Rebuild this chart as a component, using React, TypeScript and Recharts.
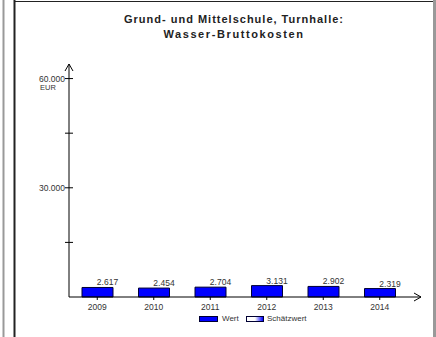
import React from 'react';
import { BarChart, Bar, XAxis, YAxis, LabelList } from 'recharts';

// Jahre und Werte (EUR)
const years = ['2009', '2010', '2011', '2012', '2013', '2014'];
const wert = [2617, 2454, 2704, 3131, 2902, 2319];
const yTicks = [15000, 30000, 45000, 60000];
const yLabelled = [30000, 60000];

const data = years.map((year, i) => ({ year, wert: wert[i] }));

const font = '"Liberation Sans", Arial, sans-serif';
const fmt = (v: number) => String(v).replace(/\B(?=(\d{3})+(?!\d))/g, '.');

const YTick = (props: any) => {
  const { x, y, payload } = props;
  return (
    <g>
      <line x1={x - 4} x2={x + 4} y1={y} y2={y} stroke="#000" />
      {yLabelled.includes(payload.value) && (
        <text x={x - 4} y={y + 3} textAnchor="end" fontSize={8.5} fontFamily={font} fill="#333">
          {fmt(payload.value)}
        </text>
      )}
    </g>
  );
};

const XTick = (props: any) => {
  const { x, y, payload } = props;
  return (
    <g>
      <line x1={x} x2={x} y1={y} y2={y + 3} stroke="#000" />
      <text x={x} y={y + 13} textAnchor="middle" fontSize={8.5} fontFamily={font} fill="#333">
        {payload.value}
      </text>
    </g>
  );
};

const ValueLabel = (props: any) => {
  const { x, y, width, value } = props;
  return (
    <text x={x + width / 2 + 10} y={y - 2} textAnchor="middle" fontSize={8.5} fontFamily={font} fill="#333">
      {fmt(value)}
    </text>
  );
};

export default function App() {
  return (
    <div style={{ position: 'fixed', left: 0, top: 0, width: 436, height: 337, background: '#fff', overflow: 'hidden' }}>
      {/* Titel */}
      <div style={{ position: 'absolute', left: 20, top: 12, width: 428, textAlign: 'center', fontFamily: font, fontWeight: 'bold', fontSize: 11, color: '#222', lineHeight: '15px' }}>
        <div style={{ letterSpacing: 1.0 }}>Grund- und Mittelschule, Turnhalle:</div>
        <div style={{ letterSpacing: 1.6 }}>Wasser-Bruttokosten</div>
      </div>

      <div style={{ position: 'absolute', left: 0, top: 0 }}>
        <BarChart width={436} height={337} data={data} margin={{ top: 64, right: 15, left: 9, bottom: 10 }}>
          <XAxis
            dataKey="year"
            height={30}
            padding={{ left: 0, right: 13 }}
            axisLine={{ stroke: '#000' }}
            tickLine={false}
            tickSize={0}
            tickMargin={0}
            tick={<XTick />}
            interval={0}
          />
          <YAxis
            width={60}
            domain={[0, 64000]}
            ticks={yTicks}
            axisLine={{ stroke: '#000' }}
            tickLine={false}
            tickSize={0}
            tickMargin={0}
            tick={<YTick />}
            interval={0}
          />
          <Bar dataKey="wert" fill="#0000ff" stroke="#000033" strokeWidth={1} barSize={31} isAnimationActive={false}>
            <LabelList dataKey="wert" content={<ValueLabel />} />
          </Bar>
        </BarChart>
      </div>

      {/* Rahmen, Pfeile und Einheit */}
      <svg style={{ position: 'absolute', left: 0, top: 0 }} width={436} height={337}>
        <line x1={3.5} x2={3.5} y1={0} y2={337} stroke="#999" strokeWidth={2} />
        <line x1={14.5} x2={14.5} y1={0} y2={337} stroke="#222" strokeWidth={2} />
        <line x1={14} x2={434} y1={1.5} y2={1.5} stroke="#222" strokeWidth={1} />
        <line x1={434.5} x2={434.5} y1={0} y2={337} stroke="#999" strokeWidth={3} />
        <polyline points="65,71 69,64 73,71" fill="none" stroke="#000" />
        <polyline points="414,293 421,297 414,301" fill="none" stroke="#000" />
        <text x={48} y={90} textAnchor="middle" fontSize={7.5} fontFamily={font} fill="#333">EUR</text>
      </svg>

      {/* Legende */}
      <div style={{ position: 'absolute', left: 199, top: 316, width: 19, height: 6, background: '#0000ff', border: '1px solid #000033', boxSizing: 'border-box' }} />
      <div style={{ position: 'absolute', left: 222, top: 314, fontFamily: font, fontSize: 8, color: '#333' }}>Wert</div>
      <div style={{ position: 'absolute', left: 246, top: 316, width: 18, height: 6, background: 'linear-gradient(90deg, #fff 50%, #0000ff 100%)', border: '1px solid #000033', boxSizing: 'border-box' }} />
      <div style={{ position: 'absolute', left: 267, top: 314, fontFamily: font, fontSize: 8, color: '#333' }}>Schätzwert</div>
    </div>
  );
}
